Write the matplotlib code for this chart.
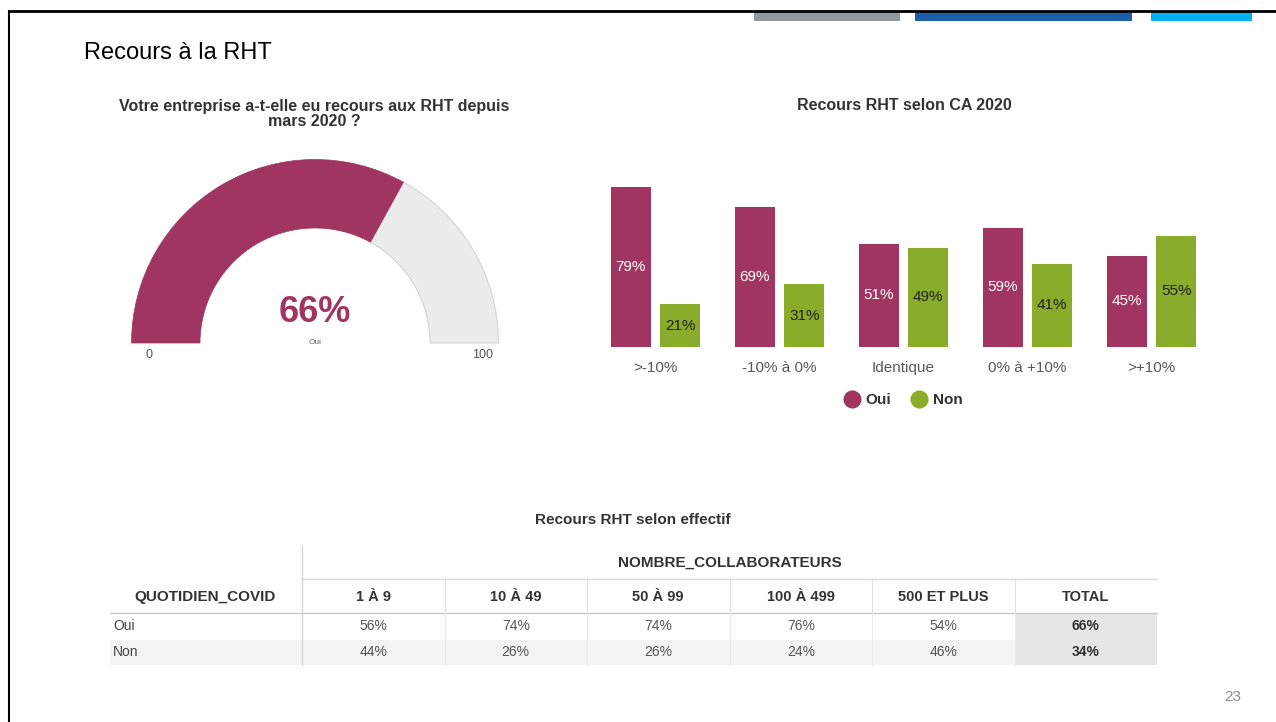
import numpy as np
import matplotlib
matplotlib.use("Agg")
from matplotlib import pyplot as plt
from matplotlib.patches import Wedge, Rectangle
from matplotlib.lines import Line2D

plt.rcParams['font.family'] = ['Liberation Sans', 'DejaVu Sans']

# data
gauge_value = 66
gauge_label = "Oui"
gauge_min, gauge_max = 0, 100

ca_categories = [">-10%", "-10% à 0%", "Identique", "0% à +10%", ">+10%"]
ca_oui = [79, 69, 51, 59, 45]
ca_non = [21, 31, 49, 41, 55]

eff_columns = ["1 À 9", "10 À 49", "50 À 99", "100 À 499", "500 ET PLUS", "TOTAL"]
eff_rows = ["Oui", "Non"]
eff_oui = [56, 74, 74, 76, 54, 66]
eff_non = [44, 26, 26, 24, 46, 34]

MAGENTA = '#a03562'
GREEN = '#8aac2a'
W, H = 1276, 722

fig = plt.figure(figsize=(W / 100, H / 100), dpi=100)

# background axes in pixel coords (y downwards)
bg = fig.add_axes([0, 0, 1, 1])
bg.set_xlim(0, W)
bg.set_ylim(H, 0)
bg.axis('off')

# slide frame and colour strips
bg.plot([9, W], [11, 11], color='black', lw=2)
bg.plot([9, 9], [11, H], color='black', lw=1.5)
for x0, x1, c in [(754, 900, '#9298a0'), (915, 1132, '#1d5fa8'), (1151, 1252, '#00b0f0')]:
    bg.add_patch(Rectangle((x0, 11), x1 - x0, 10, color=c, lw=0))

bg.text(84, 53, "Recours à la RHT", fontsize=17, va='center', ha='left', color='black')
bg.text(1233, 697, "23", fontsize=11, color='#8c8c8c', ha='center', va='center')

# ---- gauge ----
bg.text(314, 114, "Votre entreprise a-t-elle eu recours aux RHT depuis\nmars 2020 ?",
        fontsize=11.5, fontweight='bold', color='#333333', ha='center', va='center',
        linespacing=1.0)

gx = fig.add_axes([120 / W, (H - 370) / H, 390 / W, 220 / H])
gx.set_xlim(-195, 195)
gx.set_ylim(-27, 193)
gx.axis('off')
r_out, r_in = 183.5, 115
split = 180 - 180 * (gauge_value - gauge_min) / (gauge_max - gauge_min)
gx.add_patch(Wedge((0, 0), r_out, 0, split, width=r_out - r_in,
                   facecolor='#ececec', edgecolor='#d4d4d4', lw=0.8))
gx.add_patch(Wedge((0, 0), r_out, split, 180, width=r_out - r_in,
                   facecolor=MAGENTA, edgecolor=MAGENTA, lw=0.5))
gx.text(0, 30, f"{gauge_value}%", fontsize=26, fontweight='bold', color=MAGENTA,
        ha='center', va='center')
gx.text(0, 1, gauge_label, fontsize=6, color='#666666', ha='center', va='center')
gx.text(-166, -12, str(gauge_min), fontsize=9, color='#555555', ha='center', va='center')
gx.text(168, -12, str(gauge_max), fontsize=9, color='#555555', ha='center', va='center')

# ---- bar chart ----
bg.text(904, 106, "Recours RHT selon CA 2020", fontsize=11.5, fontweight='bold',
        color='#333333', ha='center', va='center')

bx = fig.add_axes([593.5 / W, (H - 347) / H, 620 / W, 202.5 / H])
x = np.arange(len(ca_categories))
off, bw = 0.2, 0.32
b1 = bx.bar(x - off, ca_oui, bw, color=MAGENTA)
b2 = bx.bar(x + off, ca_non, bw, color=GREEN)
for rect, v in zip(b1, ca_oui):
    bx.text(rect.get_x() + rect.get_width() / 2, v / 2, f"{v}%", color='white',
            fontsize=11, ha='center', va='center')
for rect, v in zip(b2, ca_non):
    bx.text(rect.get_x() + rect.get_width() / 2, v / 2, f"{v}%", color='#222222',
            fontsize=11, ha='center', va='center')
bx.set_xlim(-0.5, len(ca_categories) - 0.5)
bx.set_ylim(0, 100)
bx.set_xticks(x)
bx.set_xticklabels(ca_categories, fontsize=11, color='#595959')
bx.tick_params(axis='x', length=0, pad=10)
bx.set_yticks([])
for s in bx.spines.values():
    s.set_visible(False)
bx.patch.set_alpha(0)

handles = [Line2D([], [], marker='o', ls='', color=MAGENTA, markersize=12),
           Line2D([], [], marker='o', ls='', color=GREEN, markersize=12)]
leg = fig.legend(handles, ["Oui", "Non"], loc='center', ncol=2, frameon=False,
                 bbox_to_anchor=(903 / W, 1 - 400 / H), bbox_transform=fig.transFigure,
                 handletextpad=0.35, columnspacing=1.3, handlelength=1.1,
                 prop={'weight': 'bold', 'size': 11})
for t in leg.get_texts():
    t.set_color('#333333')

# ---- table ----
bg.text(633, 520, "Recours RHT selon effectif", fontsize=11, fontweight='bold',
        color='#333333', ha='center', va='center')

left, first, right = 110, 302, 1157
edges = np.linspace(first, right, len(eff_columns) + 1)
y_top, y_sub, y_head, y_r1, y_r2 = 546, 579, 613, 640, 665

bg.add_patch(Rectangle((left, y_r1), right - left, y_r2 - y_r1, color='#f3f3f3', lw=0))
bg.add_patch(Rectangle((edges[-2], y_head), right - edges[-2], y_r2 - y_head,
                       color='#e6e6e6', lw=0))
bg.plot([first, first], [y_top, y_r2], color='#d9d9d9', lw=1)
bg.plot([first, right], [y_sub, y_sub], color='#d9d9d9', lw=1)
bg.plot([left, right], [y_head, y_head], color='#c8c8c8', lw=1)
for e in edges[1:-1]:
    bg.plot([e, e], [y_sub, y_head], color='#e2e2e2', lw=0.8)
    bg.plot([e, e], [y_head, y_r2], color='#eaeaea', lw=0.8)

bg.text((first + right) / 2, 563, "NOMBRE_COLLABORATEURS", fontsize=11, fontweight='bold',
        color='#333333', ha='center', va='center')
bg.text(205, 597, "QUOTIDIEN_COVID", fontsize=11, fontweight='bold', color='#333333',
        ha='center', va='center')
centers = (edges[:-1] + edges[1:]) / 2
for cx, name in zip(centers, eff_columns):
    bg.text(cx, 597, name, fontsize=10.5, fontweight='bold', color='#333333',
            ha='center', va='center')
for yy, label, vals in [((y_head + y_r1) / 2, eff_rows[0], eff_oui),
                        ((y_r1 + y_r2) / 2, eff_rows[1], eff_non)]:
    bg.text(113, yy, label, fontsize=10, color='#444444', ha='left', va='center')
    for i, (cx, v) in enumerate(zip(centers, vals)):
        last = i == len(vals) - 1
        bg.text(cx, yy, f"{v}%", fontsize=10, color='#333333' if last else '#555555',
                fontweight='bold' if last else 'normal', ha='center', va='center')

fig.savefig("out.png", dpi=100)
